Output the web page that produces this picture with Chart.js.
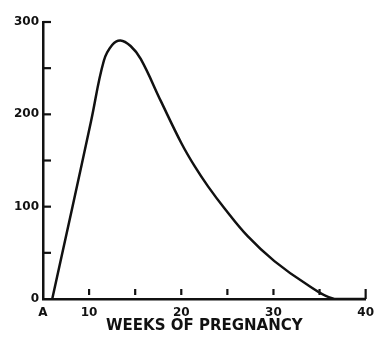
<!DOCTYPE html>
<html>
<head>
<meta charset="utf-8">
<script src="https://cdn.jsdelivr.net/npm/chart.js@4"></script>
<style>
  html, body { margin: 0; padding: 0; background: #fff; }
  #wrap { width: 381px; height: 342px; }
</style>
</head>
<body>
<div id="wrap"><canvas id="chart" width="381" height="342"></canvas></div>
<script>
// datos
const weeks = [6, 8.2, 10.2, 11.6, 12.5, 13.4, 14.5, 15.6, 17.8, 20, 21.5, 22.9, 24.7, 27.2, 30.1, 33.6, 36.6, 40];
const values = [0, 100, 192, 258, 275, 280, 274, 260, 214, 169, 143, 122, 98, 68, 41, 16, 0, 0];

// marcas de los ejes
const yMarks = [50, 100, 150, 200, 250, 300];
const xMarks = [10, 15, 20, 25, 30, 35, 40];
const xLabels = { 5: 'A', 10: '10', 20: '20', 30: '30', 40: '40' };

const ink = '#111';

// dibuja las marcas hacia dentro como en el original
const innerTicks = {
    id: 'innerTicks',
    afterDatasetsDraw(chart) {
        const { ctx, chartArea, scales } = chart;
        ctx.save();
        ctx.strokeStyle = ink;
        ctx.lineWidth = 2.2;
        yMarks.forEach(v => {
            const py = scales.y.getPixelForValue(v);
            ctx.beginPath();
            ctx.moveTo(chartArea.left, py);
            ctx.lineTo(chartArea.left + 8, py);
            ctx.stroke();
        });
        xMarks.forEach(v => {
            const px = scales.x.getPixelForValue(v);
            const gap = v === 40 ? 0 : 4;
            ctx.beginPath();
            ctx.moveTo(px, chartArea.bottom - gap);
            ctx.lineTo(px, chartArea.bottom - 10);
            ctx.stroke();
        });
        ctx.restore();
    }
};

new Chart(document.getElementById('chart'), {
    type: 'line',
    data: {
        datasets: [{
            data: weeks.map((w, i) => ({ x: w, y: values[i] })),
            borderColor: ink,
            borderWidth: 2.5,
            pointRadius: 0,
            fill: false,
            tension: 0.4
        }]
    },
    options: {
        responsive: false,
        animation: false,
        layout: { padding: { top: 22, right: 11, left: 0, bottom: 0 } },
        plugins: {
            legend: { display: false },
            tooltip: { enabled: false }
        },
        scales: {
            x: {
                type: 'linear',
                min: 5,
                max: 40,
                afterFit(scale) { scale.height = 43; },
                grid: { display: true, drawOnChartArea: false, drawTicks: false },
                border: { display: true, color: ink, width: 2.5 },
                ticks: {
                    stepSize: 5,
                    autoSkip: false,
                    maxRotation: 0,
                    padding: 7,
                    color: ink,
                    font: { family: 'DejaVu Sans', size: 12, weight: 'bold' },
                    callback: v => xLabels[v] || ''
                },
                title: {
                    display: true,
                    text: 'WEEKS OF PREGNANCY',
                    color: ink,
                    font: { family: 'DejaVu Sans', size: 15, weight: 'bold' },
                    padding: { top: 0, bottom: 7 }
                }
            },
            y: {
                min: 0,
                max: 300,
                afterFit(scale) { scale.width = 43; },
                grid: { display: true, drawOnChartArea: false, drawTicks: false },
                border: { display: true, color: ink, width: 2.5 },
                ticks: {
                    stepSize: 50,
                    padding: 4,
                    color: ink,
                    font: { family: 'DejaVu Sans', size: 12, weight: 'bold' },
                    callback: v => (v % 100 === 0 ? v : '')
                }
            }
        }
    },
    plugins: [innerTicks]
});
</script>
</body>
</html>
